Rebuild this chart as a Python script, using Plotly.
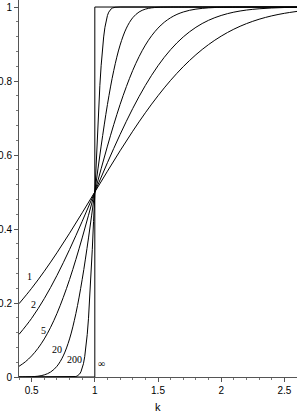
import plotly.graph_objects as go

# ---- data ----
k_1 = [0.4, 0.5, 0.6, 0.7, 0.8, 0.9, 1.0, 1.1, 1.2, 1.3, 1.4, 1.5, 1.6, 1.7, 1.8, 1.9, 2.0, 2.1, 2.2, 2.3, 2.4, 2.5, 2.6]
y_1 = [0.1981, 0.2398, 0.2858, 0.3357, 0.3886, 0.4438, 0.5, 0.5562, 0.6114, 0.6643, 0.7142, 0.7602, 0.8019,
       0.8389, 0.8711, 0.8985, 0.9213, 0.9401, 0.9551, 0.9670, 0.9761, 0.9830, 0.9882]

k_2 = [0.4, 0.5, 0.6, 0.7, 0.8, 0.9, 1.0, 1.1, 1.2, 1.3, 1.4, 1.5, 1.6, 1.7, 1.8, 1.9, 2.0, 2.1, 2.2, 2.3, 2.4, 2.5, 2.6]
y_2 = [0.1151, 0.1587, 0.2119, 0.2743, 0.3446, 0.4207, 0.5, 0.5793, 0.6554, 0.7257, 0.7881, 0.8413, 0.8849,
       0.9192, 0.9452, 0.9641, 0.9772, 0.9861, 0.9918, 0.9953, 0.9974, 0.9987, 0.9993]

k_5 = [0.4, 0.45, 0.5, 0.55, 0.6, 0.65, 0.7, 0.75, 0.8, 0.85, 0.9, 0.95, 1.0, 1.05, 1.1, 1.15, 1.2, 1.25,
       1.3, 1.35, 1.4, 1.45, 1.5, 1.55, 1.6, 1.65, 1.7, 1.75, 1.8, 1.85, 1.9, 1.95, 2.0, 2.2, 2.6]
y_5 = [0.0289, 0.0410, 0.0570, 0.0774, 0.1029, 0.1342, 0.1714, 0.2148, 0.2635, 0.3177, 0.3759, 0.4372, 0.5,
       0.5628, 0.6241, 0.6823, 0.7365, 0.7852, 0.8286, 0.8658, 0.8971, 0.9226, 0.9430, 0.9590, 0.9711, 0.9801,
       0.9866, 0.9912, 0.9943, 0.9964, 0.9978, 0.9987, 0.9992, 0.9999, 1.0]

k_20 = [0.4, 0.45, 0.5, 0.55, 0.6, 0.65, 0.7, 0.75, 0.8, 0.85, 0.9, 0.95, 1.0, 1.05, 1.1, 1.15, 1.2, 1.25,
        1.3, 1.35, 1.4, 1.45, 1.5, 1.6, 1.8, 2.6]
y_20 = [0.0001, 0.0003, 0.0008, 0.0022, 0.0057, 0.0134, 0.0289, 0.0570, 0.1029, 0.1714, 0.2635, 0.3759, 0.5,
        0.6241, 0.7365, 0.8286, 0.8971, 0.9430, 0.9711, 0.9866, 0.9943, 0.9978, 0.9992, 0.9999, 1.0, 1.0]

k_200 = [0.4, 0.8, 0.84, 0.85, 0.86, 0.87, 0.88, 0.89, 0.90, 0.91, 0.92, 0.93, 0.94, 0.95, 0.96, 0.97, 0.98,
         0.99, 1.0, 1.01, 1.02, 1.03, 1.04, 1.05, 1.06, 1.07, 1.08, 1.09, 1.10, 1.11, 1.12, 1.13, 1.14, 1.15,
         1.16, 1.2, 2.6]
y_200 = [0.0, 0.0, 0.0007, 0.0013, 0.0026, 0.0047, 0.0082, 0.0139, 0.0228, 0.0359, 0.0548, 0.0808, 0.1151,
         0.1587, 0.2119, 0.2743, 0.3446, 0.4207, 0.5, 0.5793, 0.6554, 0.7257, 0.7881, 0.8413, 0.8849, 0.9192,
         0.9452, 0.9641, 0.9772, 0.9861, 0.9918, 0.9953, 0.9974, 0.9987, 0.9993, 1.0, 1.0]

k_inf = [0.4, 1.0, 1.0, 2.6]
y_inf = [0.0, 0.0, 1.0, 1.0]

curve_labels = ["1", "2", "5", "20", "200", "∞"]
label_k = [0.487, 0.513, 0.592, 0.698, 0.843, 1.055]
label_y = [0.271, 0.197, 0.127, 0.075, 0.046, 0.037]

x_tickvals = [0.5, 1, 1.5, 2, 2.5]
x_ticktext = ["0.5", "1", "1.5", "2", "2.5"]
y_tickvals = [0, 0.2, 0.4, 0.6, 0.8, 1]
y_ticktext = ["0", "0.2", "0.4", "0.6", "0.8", "1"]
x_title = "k"

# ---- figure ----
fig = go.Figure()
for kx, yy, shape in [(k_1, y_1, "spline"), (k_2, y_2, "spline"), (k_5, y_5, "spline"),
                      (k_20, y_20, "spline"), (k_200, y_200, "linear"), (k_inf, y_inf, "linear")]:
    fig.add_trace(go.Scatter(x=kx, y=yy, mode="lines", line=dict(color="black", width=1, shape=shape),
                             hoverinfo="skip", showlegend=False))

for t, lx, ly in zip(curve_labels, label_k, label_y):
    fig.add_annotation(x=lx, y=ly, text=t, showarrow=False,
                       font=dict(family="Liberation Serif, Times New Roman, serif", size=10, color="black"))

fig.add_annotation(x=0.5, xref="paper", y=0, yref="paper", yanchor="middle", yshift=-30,
                   text=x_title, showarrow=False,
                   font=dict(family="Liberation Sans, Arial, sans-serif", size=11, color="black"))

axis_font = dict(family="Liberation Sans, Arial, sans-serif", size=10, color="black")
fig.update_layout(
    width=297, height=415,
    margin=dict(l=19, r=0, t=0, b=38),
    paper_bgcolor="white", plot_bgcolor="white",
    showlegend=False,
    xaxis=dict(range=[0.4, 2.6], tickvals=x_tickvals, ticktext=x_ticktext, showgrid=False, zeroline=False,
               showline=True, linecolor="#555", linewidth=1, ticks="outside", ticklen=4, tickcolor="#555",
               tickfont=axis_font, automargin=False,
               minor=dict(tick0=0.4, dtick=0.1, ticks="outside", ticklen=2, tickcolor="#777", showgrid=False)),
    yaxis=dict(range=[0, 1.019], tickvals=y_tickvals, ticktext=y_ticktext, showgrid=False, zeroline=False,
               showline=True, linecolor="#555", linewidth=1, ticks="outside", ticklen=4, tickcolor="#555",
               tickfont=axis_font, automargin=False,
               minor=dict(tick0=0, dtick=0.04, ticks="outside", ticklen=2, tickcolor="#777", showgrid=False)),
)

fig.write_html("out.html", config={"displayModeBar": False},
               post_script="document.body.style.margin='0';")
